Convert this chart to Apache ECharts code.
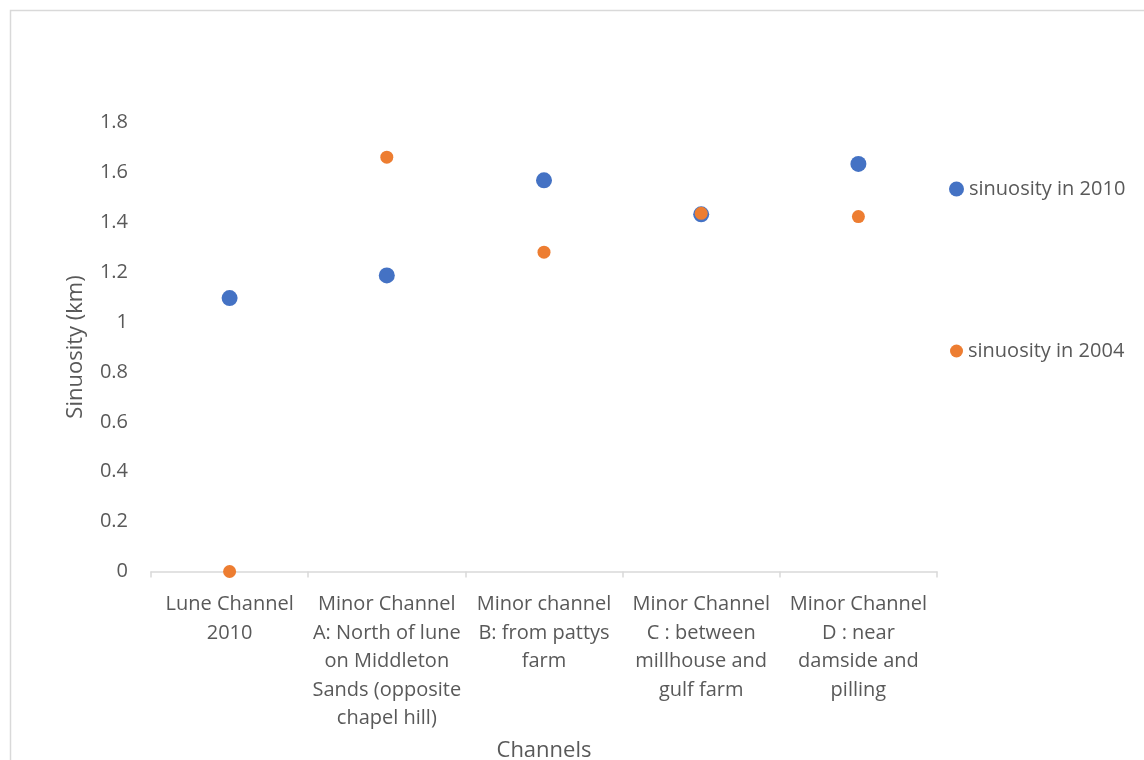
<!DOCTYPE html>
<html>
<head>
<meta charset="utf-8">
<script src="https://cdn.jsdelivr.net/npm/echarts@6/dist/echarts.min.js"></script>
<style>
html,body{margin:0;padding:0;background:#fff;}
#chart{width:1144px;height:760px;}
</style>
</head>
<body>
<div id="chart"></div>
<script>
const categories = [
  "Lune Channel\n2010",
  "Minor Channel\nA: North of lune\non Middleton\nSands (opposite\nchapel hill)",
  "Minor channel\nB: from pattys\nfarm",
  "Minor Channel\nC : between\nmillhouse and\ngulf farm",
  "Minor Channel\nD : near\ndamside and\npilling"
];
const seriesNames = ["sinuosity in 2010", "sinuosity in 2004"];
const sinuosity2010 = [1.096, 1.187, 1.568, 1.432, 1.634];
const sinuosity2004 = [0, 1.661, 1.280, 1.436, 1.423];
const yTicks = { min: 0, max: 1.8, interval: 0.2 };

const FONT = "'Open Sans', 'Noto Sans', sans-serif";
const TXT = "#595959";
const chart = echarts.init(document.getElementById('chart'), null, { renderer: 'canvas' });
chart.setOption({
  animation: false,
  backgroundColor: '#ffffff',
  textStyle: { fontFamily: FONT, color: TXT },
  graphic: [{
    type: 'rect',
    shape: { x: 10.5, y: 10.5, width: 1300, height: 900 },
    style: { fill: 'none', stroke: '#d9d9d9', lineWidth: 1.5 },
    silent: true
  }],
  grid: { left: 151, right: 207, top: 122.5, bottom: 188.5, containLabel: false, outerBoundsMode: 'none' },
  legend: [{
    data: [seriesNames[0]],
    orient: 'vertical',
    left: 944, top: 174,
    icon: 'circle', itemWidth: 15, itemHeight: 15, itemGap: 0,
    textStyle: { fontFamily: FONT, fontSize: 20, color: TXT }
  }, {
    data: [seriesNames[1]],
    orient: 'vertical',
    left: 945, top: 336,
    icon: 'circle', itemWidth: 13, itemHeight: 13, itemGap: 0,
    textStyle: { fontFamily: FONT, fontSize: 20, color: TXT }
  }],
  xAxis: {
    type: 'category',
    data: categories,
    boundaryGap: true,
    name: 'Channels',
    nameLocation: 'middle',
    nameGap: 168,
    nameTextStyle: { fontFamily: FONT, fontSize: 22, color: TXT },
    axisLine: { show: true, lineStyle: { color: '#d9d9d9', width: 1.5 } },
    axisTick: { show: true, length: 6, lineStyle: { color: '#d9d9d9', width: 1.5 } },
    axisLabel: { interval: 0, margin: 19, fontFamily: FONT, fontSize: 20, lineHeight: 28.5, color: TXT, align: 'center' },
    splitLine: { show: false }
  },
  yAxis: {
    type: 'value',
    min: yTicks.min, max: yTicks.max, interval: yTicks.interval,
    name: 'Sinuosity (km)',
    nameLocation: 'middle',
    nameGap: 64,
    nameTextStyle: { fontFamily: FONT, fontSize: 22, color: TXT },
    axisLine: { show: false },
    axisTick: { show: false },
    splitLine: { show: false },
    axisLabel: { margin: 23, fontFamily: FONT, fontSize: 20, color: TXT }
  },
  series: [{
    name: seriesNames[0],
    type: 'scatter',
    data: sinuosity2010,
    symbol: 'circle',
    symbolSize: 16,
    itemStyle: { color: '#4472C4', opacity: 1 }
  }, {
    name: seriesNames[1],
    type: 'scatter',
    data: sinuosity2004,
    symbol: 'circle',
    symbolSize: 13,
    itemStyle: { color: '#ED7D31', opacity: 1 }
  }]
});
</script>
</body>
</html>
